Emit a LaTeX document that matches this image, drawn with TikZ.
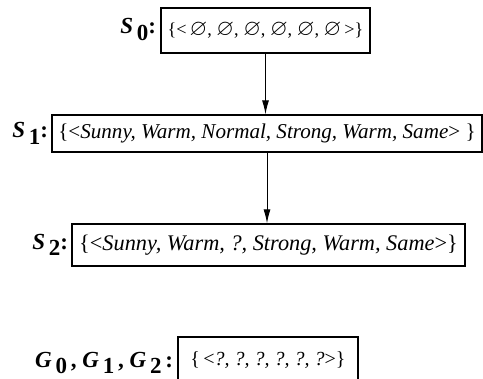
\documentclass[tikz,border=0pt]{standalone}
\usepackage{amssymb}
\usepackage{fontspec}
\setmainfont{Liberation Serif}
\usetikzlibrary{arrows.meta,positioning}

% hypothesis name: bold italic letter, bold lowered index
\newcommand{\hname}[2]{\textbf{\textit{#1}}\,\raisebox{-0.6ex}{\textbf{#2}}}
\newcommand{\eset}{\scalebox{1.25}{$\varnothing$}}

\begin{document}
\begin{tikzpicture}[x=1pt,y=-1pt,>={Latex[length=14pt,width=7pt]},
  hyp/.style={draw,line width=1.3pt,inner sep=0pt,minimum height=#1},
  lbl/.style={inner sep=0pt,font=\fontsize{23}{25}\selectfont\bfseries}]
\useasboundingbox (0,0) rectangle (483,379);
% specific boundary
\node[hyp=45pt,minimum width=209pt,font=\fontsize{18.2}{20}\selectfont] (s0) at (265.5,30.5)
  {\{<\,\eset, \eset, \eset, \eset, \eset, \eset\,>\}};
\node[lbl,left=4pt of s0,yshift=1pt] (ls0) {\hname{S}{0}:};
\node[hyp=37pt,minimum width=430pt,font=\fontsize{21.1}{23}\selectfont] (s1) at (267,133.5)
  {\{<\textit{Sunny, Warm, Normal, Strong, Warm, Same}> \}};
\node[lbl,left=3pt of s1] (ls1) {\hname{S}{1}:};
\node[hyp=42pt,minimum width=393pt,font=\fontsize{22.3}{24}\selectfont] (s2) at (268.5,245)
  {\{<\textit{Sunny, Warm, ?, Strong, Warm, Same}>\}};
\node[lbl,left=3pt of s2] (ls2) {\hname{S}{2}:};
% general boundary
\node[hyp=46pt,minimum width=180pt,font=\fontsize{20}{22}\selectfont] (g) at (268,360)
  {\{\,<\textit{?, ?, ?, ?, ?, ?}>\}};
\node[lbl,left=4pt of g,yshift=-3pt] (lg) {\hname{G}{0}\,, \hname{G}{1}\,, \hname{G}{2}\,:};
\draw[->,line width=1pt] (s0.south) -- (s0.south |- s1.north);
\draw[->,line width=1pt] (s1.south) -- (s1.south |- s2.north);
\end{tikzpicture}
\end{document}
